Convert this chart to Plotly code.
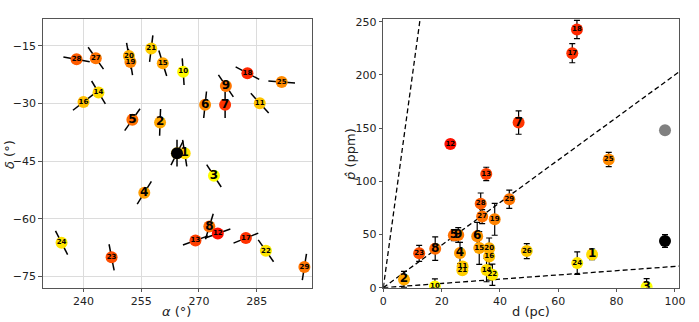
import numpy as np
import plotly.graph_objects as go

# star catalogue: id, sky position, polarisation angle, distance, polarisation
star_id = list(range(1, 30))
ra = [266.3, 259.9, 273.9, 255.8, 252.7, 271.6, 276.8, 272.7, 277.0, 265.9,
      285.8, 274.9, 269.1, 243.9, 260.6, 240.0, 282.2, 282.6, 252.2, 251.8,
      257.6, 287.4, 247.3, 234.3, 291.5, 264.3, 243.2, 238.2, 297.4]
dec = [-42.9, -34.9, -48.8, -53.2, -34.2, -30.3, -30.3, -62.0, -25.4, -21.7,
       -29.9, -63.8, -65.6, -27.1, -19.5, -29.6, -65.0, -22.1, -19.2, -17.6,
       -15.7, -68.3, -70.0, -66.2, -24.4, -42.9, -18.2, -18.5, -72.5]
pol_angle = [-9, 2, -33, 32, 35, 6, 0, 17, -34, -4,
             -42, 70, 70, -31, -17, 52, 68, -62, -9, -10,
             7, -35, -11, -27, -86, 27, -35, -80, 9]
dist = [71.6, 7.1, 90.3, 26.3, 24.2, 32.2, 46.4, 17.8, 25.7, 17.7,
        27.2, 23.0, 35.3, 35.4, 32.9, 36.3, 64.8, 66.4, 38.2, 36.3,
        27.1, 37.4, 12.3, 66.5, 77.3, 49.2, 33.9, 33.4, 43.2]
pol = [31.3, 7.8, 0.6, 32.6, 49.2, 48.3, 155.2, 36.7, 49.5, 1.2,
       20.0, 135.1, 106.9, 16.6, 37.3, 29.4, 220.4, 242.7, 64.3, 37.0,
       16.3, 12.2, 32.3, 23.1, 120.4, 34.4, 66.8, 79.0, 83.1]
pol_err = [5, 7.5, 8, 10, 5, 13, 11, 11, 7, 7,
           3, 4, 6.3, 11, 15.4, 8, 9, 8.6, 15, 9.7,
           3, 10, 7.5, 10.5, 6.7, 7, 6.6, 10, 8.5]

# reference object (black) and its second estimate (grey)
ref_ra, ref_dec, ref_angle = 264.3, -42.9, 0
ref_dist, ref_pol, ref_err = 96.6, 43.8, 6
ref2_dist, ref2_pol = 96.6, 148.0

# guide lines p = k * d
slopes = [20, 2, 0.2]

ratio = [p / d for p, d in zip(pol, dist)]
labels = [str(i) for i in star_id]
label_size = [12 if i < 10 else 7 for i in star_id]
cscale = [[0, "#ffff00"], [0.15, "#ffcc00"], [0.3, "#ff9900"],
          [0.6, "#ff5000"], [1, "#ff1000"]]
marker_style = dict(size=12, color=ratio, colorscale=cscale, cmin=0, cmax=4.3)
label_font = dict(size=label_size, color="black", family="DejaVu Sans", weight="bold")

W, H = 699, 322


def px_x(p):
    return p / W


def px_y(p):
    return 1 - p / H


fig = go.Figure()

# --- left: sky map with polarisation vectors ---
half = 3.47
sx, sy = [], []
for a, d, t in list(zip(ra, dec, pol_angle)) + [(ref_ra, ref_dec, ref_angle)]:
    s, c = np.sin(np.radians(t)), np.cos(np.radians(t))
    sx += [a - half * s, a + half * s, None]
    sy += [d - half * c, d + half * c, None]
fig.add_trace(go.Scatter(x=sx, y=sy, mode="lines", line=dict(color="black", width=1.5),
                         xaxis="x", yaxis="y", hoverinfo="skip"))
fig.add_trace(go.Scatter(x=ra, y=dec, mode="markers+text", text=labels,
                         textfont=label_font, textposition="middle center",
                         marker=marker_style, xaxis="x", yaxis="y"))
fig.add_trace(go.Scatter(x=[ref_ra], y=[ref_dec], mode="markers",
                         marker=dict(size=12, color="black"), xaxis="x", yaxis="y"))

# --- right: polarisation vs distance ---
for k in slopes:
    fig.add_trace(go.Scatter(x=[0, 102], y=[0, 102 * k], mode="lines",
                             line=dict(color="black", width=1.3, dash="5px,3px"),
                             xaxis="x2", yaxis="y2", hoverinfo="skip"))
fig.add_trace(go.Scatter(
    x=dist, y=pol, mode="markers+text", text=labels,
    error_y=dict(type="data", array=pol_err, color="black", thickness=1.2, width=3),
    textfont=label_font, textposition="middle center",
    marker=marker_style, xaxis="x2", yaxis="y2"))
fig.add_trace(go.Scatter(x=[ref_dist], y=[ref_pol], mode="markers",
                         error_y=dict(type="data", array=[ref_err], color="black", thickness=1.2, width=3),
                         marker=dict(size=12, color="black"), xaxis="x2", yaxis="y2"))
fig.add_trace(go.Scatter(x=[ref2_dist], y=[ref2_pol], mode="markers",
                         marker=dict(size=12, color="#808080"), xaxis="x2", yaxis="y2"))

tick_font = dict(family="DejaVu Sans", size=11, color="#222")
common = dict(showline=True, linecolor="#555", linewidth=1, mirror=True, ticks="outside",
              ticklen=3.5, tickcolor="#555", tickfont=tick_font, zeroline=False,
              automargin=False)
y_dom = [px_y(287.7), px_y(19)]

fig.update_layout(
    width=W, height=H,
    margin=dict(l=0, r=0, t=0, b=0),
    paper_bgcolor="white", plot_bgcolor="white",
    showlegend=False,
    font=dict(family="DejaVu Sans", color="#222"),
    xaxis=dict(domain=[px_x(42.7), px_x(311.7)], range=[229.4, 299.3],
               tickvals=[240, 255, 270, 285], showgrid=True, gridcolor="#dcdcdc",
               anchor="y", **common),
    yaxis=dict(domain=y_dom, range=[-77.9, -8.0],
               tickvals=[-15, -30, -45, -60, -75],
               ticktext=["\u221215", "\u221230", "\u221245", "\u221260", "\u221275"],
               showgrid=True, gridcolor="#dcdcdc", anchor="x", **common),
    xaxis2=dict(domain=[px_x(383.3), px_x(679.3)], range=[0, 101.5],
                tickvals=[0, 20, 40, 60, 80, 100], showgrid=False, anchor="y2", **common),
    yaxis2=dict(domain=y_dom, range=[0, 252.5],
                tickvals=[0, 50, 100, 150, 200, 250], showgrid=False, anchor="x2", **common),
)

# axis titles placed at their pixel positions
titles = [("<i>α</i> (°)", 176, 311, 0), ("<i>δ</i> (°)", 9, 155, -90),
          ("d (pc)", 531, 311, 0), ("<i>p̂</i> (ppm)", 350, 155, -90)]
for text, px, py, ang in titles:
    fig.add_annotation(text=text, x=px_x(px), y=px_y(py), xref="paper", yref="paper",
                       xanchor="center", yanchor="middle",
                       showarrow=False, textangle=ang, font=dict(size=13))

# drop the default 8px page margin so the figure fills the window
fig.write_html("out.html", config={"displayModeBar": False},
               post_script="document.body.style.margin = '0';")
